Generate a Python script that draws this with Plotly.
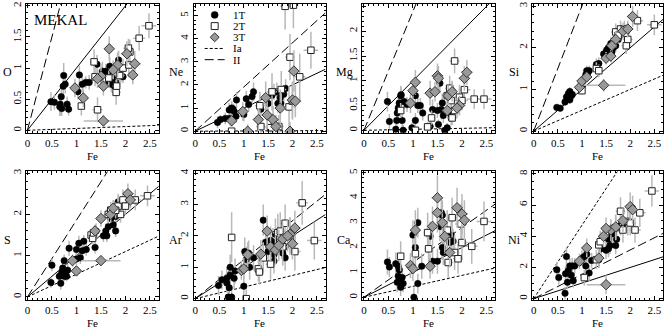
import plotly.graph_objects as go

# ---------------- data ----------------
ELEMENTS = ["O", "Ne", "Mg", "Si", "S", "Ar", "Ca", "Ni"]
FE_TICKS = [0, 0.5, 1, 1.5, 2, 2.5]
FE_TICK_LABELS = ["0", "0.5", "1", "1.5", "2", "2.5"]
FE_RANGE = [-0.03, 2.68]
Y_RANGES = [[-0.04, 2.03], [-0.07, 5.5], [-0.05, 2.55], [-0.04, 3.05],
            [-0.08, 3.04], [-0.05, 4.05], [-0.12, 5.06], [-0.1, 8.15]]
Y_TICKS = [[0, 0.5, 1, 1.5, 2], [0, 1, 2, 3, 4, 5], [0, 0.5, 1, 1.5, 2, 2.5], [0, 1, 2, 3],
           [0, 1, 2, 3], [0, 1, 2, 3, 4], [0, 1, 2, 3, 4, 5], [0, 2, 4, 6, 8]]
Y_MINOR = [0.1, 0.2, 0.1, 0.2, 0.2, 0.2, 0.2, 0.5]
RATIO_SOLAR = [1, 1, 1, 1, 1, 1, 1, 1]
RATIO_IA = [0.03, 0.01, 0.02, 0.5, 0.55, 0.37, 0.44, 4.7]
RATIO_II = [3.0, 1.91, 2.4, 3.0, 1.86, 1.24, 1.4, 1.56]
LEGEND_NAMES = ["1T", "2T", "3T", "Ia", "II"]

# O
O_1T_fe = [0.48, 0.55, 0.67, 0.66, 0.70, 0.69, 0.81, 0.84, 0.74, 0.77, 0.73, 1.06, 1.03, 1.12, 1.19, 1.26, 1.42, 1.53, 1.60, 1.64, 1.66, 1.71, 1.78, 1.68, 1.74, 1.86, 1.91, 1.95, 1.82]
O_1T_val = [0.46, 0.45, 0.42, 0.38, 0.35, 0.54, 0.42, 0.34, 0.88, 0.74, 0.71, 0.89, 0.62, 0.74, 0.77, 0.77, 1.06, 0.95, 0.95, 0.92, 0.79, 0.74, 0.71, 1.03, 0.84, 1.13, 0.89, 0.86, 0.76]
O_1T_err = [0.15, 0.12, 0.18, 0.15, 0.12, 0.15, 0.12, 0.1, 0.2, 0.15, 0.2, 0.15, 0.12, 0.12, 0.1, 0.12, 0.15, 0.15, 0.12, 0.12, 0.1, 0.12, 0.1, 0.15, 0.12, 0.15, 0.12, 0.1, 0.12]
O_2T_fe = [1.10, 1.43, 1.36, 1.38, 1.81, 1.82, 1.95, 2.07, 2.09, 2.06, 2.28, 2.48, 1.66, 1.88]
O_2T_val = [0.39, 0.33, 1.10, 0.86, 0.61, 0.71, 1.00, 1.05, 1.26, 1.32, 1.48, 1.68, 0.84, 0.88]
O_2T_err = [0.15, 0.2, 0.2, 0.15, 0.2, 0.15, 0.15, 0.2, 0.2, 0.15, 0.2, 0.2, 0.15, 0.15]
O_2T_ferr = [0.05, 0.1, 0.08, 0.08, 0.1, 0.08, 0.1, 0.12, 0.1, 0.1, 0.12, 0.15, 0.08, 0.1]
O_3T_fe = [0.97, 1.14, 1.50, 1.55, 1.67, 2.03, 2.19, 2.15, 1.55, 1.84, 1.75, 1.43]
O_3T_val = [0.68, 0.52, 0.87, 0.71, 1.31, 1.23, 1.07, 0.89, 0.15, 1.05, 0.97, 0.83]
O_3T_err = [0.15, 0.15, 0.2, 0.15, 0.2, 0.2, 0.2, 0.15, 0.1, 0.2, 0.15, 0.15]
O_3T_ferr = [0.08, 0.08, 0.1, 0.1, 0.1, 0.12, 0.12, 0.1, 0.4, 0.1, 0.1, 0.1]

# Ne
Ne_1T_fe = [0.46, 0.52, 0.62, 0.72, 0.70, 0.75, 0.78, 0.80, 0.84, 0.85, 1.00, 1.05, 1.10, 1.17, 1.20, 1.35, 1.50, 1.58, 1.62, 1.68, 1.70, 1.76, 1.82, 1.86, 1.75]
Ne_1T_val = [0.38, 0.5, 0.55, 0.55, 0.92, 1.0, 0.95, 0.85, 0.65, 1.35, 0.72, 1.4, 1.15, 1.5, 1.7, 0.95, 1.2, 1.55, 1.7, 1.7, 1.2, 1.2, 1.6, 1.85, 1.45]
Ne_1T_err = [0.25, 0.2, 0.25, 0.3, 0.3, 0.3, 0.25, 0.3, 0.3, 0.35, 0.3, 0.35, 0.3, 0.35, 0.4, 0.3, 0.4, 0.4, 0.35, 0.4, 0.4, 0.35, 0.4, 0.4, 0.35]
Ne_2T_fe = [0.75, 1.33, 1.35, 1.55, 1.72, 1.58, 1.77, 1.93, 2.00, 1.95, 2.15, 2.38, 1.85, 2.02]
Ne_2T_val = [0.0, 1.1, 0.2, 0.15, 0.2, 1.7, 1.8, 1.05, 1.3, 3.2, 2.35, 3.5, 5.4, 5.45]
Ne_2T_err = [0.3, 0.6, 0.4, 0.4, 0.5, 0.8, 0.8, 0.9, 0.8, 1.0, 1.0, 0.8, 1.0, 1.0]
Ne_2T_ferr = [0.05, 0.1, 0.1, 0.1, 0.1, 0.1, 0.1, 0.12, 0.1, 0.1, 0.12, 0.15, 0.1, 0.1]
Ne_3T_fe = [0.75, 0.98, 1.08, 1.30, 1.45, 1.48, 1.60, 1.66, 1.75, 1.95, 2.00, 2.03, 2.06]
Ne_3T_val = [0.45, 0.85, 0.0, 0.5, 1.45, 0.7, 0.5, 0.2, 1.0, 0.0, 1.35, 2.6, 1.3]
Ne_3T_err = [0.3, 0.4, 0.3, 0.5, 0.7, 0.6, 0.6, 0.5, 0.8, 0.4, 0.8, 0.9, 0.7]
Ne_3T_ferr = [0.08, 0.08, 0.1, 0.1, 0.1, 0.1, 0.1, 0.1, 0.12, 0.1, 0.12, 0.12, 0.12]

# Mg
Mg_1T_fe = [0.48, 0.52, 0.65, 0.67, 0.68, 0.70, 0.72, 0.75, 0.76, 0.78, 0.80, 0.82, 0.88, 0.98, 1.05, 1.10, 1.15, 1.05, 1.20, 1.35, 1.40, 1.50, 1.55, 1.58, 1.52, 1.60, 1.62, 1.70, 1.80, 1.75, 1.65, 1.78]
Mg_1T_val = [0.58, 0.18, 0.02, 0.2, 0.35, 0.45, 0.55, 0.7, 0.72, 0.2, 0.0, 0.58, 0.52, 0.05, 0.7, 0.5, 0.5, 0.2, 0.35, 0.08, 0.42, 0.4, 0.95, 0.42, 0.12, 0.55, 0.3, 0.05, 0.8, 0.35, 0.0, 0.25]
Mg_1T_err = [0.2, 0.15, 0.1, 0.15, 0.15, 0.2, 0.15, 0.2, 0.15, 0.15, 0.1, 0.15, 0.15, 0.1, 0.2, 0.15, 0.15, 0.15, 0.15, 0.1, 0.2, 0.15, 0.2, 0.2, 0.1, 0.2, 0.15, 0.1, 0.2, 0.15, 0.1, 0.15]
Mg_2T_fe = [0.75, 1.05, 1.30, 1.38, 1.85, 1.75, 1.78, 1.80, 1.85, 1.95, 2.00, 2.05, 2.25, 2.45, 1.70]
Mg_2T_val = [0.4, 0.0, 0.07, 0.25, 1.4, 0.85, 0.6, 0.25, 0.4, 0.67, 0.6, 0.82, 0.63, 0.63, 0.7]
Mg_2T_err = [0.15, 0.1, 0.1, 0.15, 0.25, 0.25, 0.2, 0.15, 0.2, 0.25, 0.2, 0.25, 0.2, 0.2, 0.2]
Mg_2T_ferr = [0.05, 0.05, 0.08, 0.08, 0.1, 0.1, 0.1, 0.1, 0.1, 0.1, 0.12, 0.12, 0.15, 0.15, 0.1]
Mg_3T_fe = [0.95, 1.00, 1.05, 1.35, 1.45, 1.50, 1.52, 1.72, 1.80, 1.95, 2.05, 2.10, 1.70, 1.90]
Mg_3T_val = [0.55, 0.8, 0.97, 0.75, 0.78, 1.1, 1.05, 0.7, 0.78, 0.5, 1.05, 1.17, 0.4, 0.45]
Mg_3T_err = [0.2, 0.2, 0.25, 0.25, 0.2, 0.25, 0.25, 0.2, 0.2, 0.2, 0.25, 0.25, 0.15, 0.2]
Mg_3T_ferr = [0.08, 0.1, 0.1, 0.1, 0.1, 0.12, 0.1, 0.1, 0.1, 0.12, 0.12, 0.12, 0.1, 0.1]

# Si
Si_1T_fe = [0.48, 0.55, 0.65, 0.68, 0.72, 0.75, 0.78, 0.80, 0.75, 1.00, 1.02, 1.08, 1.10, 1.12, 1.15, 1.30, 1.35, 1.50, 1.52, 1.55, 1.60, 1.62, 1.65, 1.70, 1.75, 1.80, 1.60, 1.45]
Si_1T_val = [0.57, 0.55, 0.7, 0.82, 0.9, 0.95, 0.85, 0.88, 0.75, 1.05, 1.2, 1.35, 1.45, 1.4, 1.45, 1.6, 1.62, 1.9, 1.95, 2.0, 2.1, 1.9, 2.0, 2.05, 2.2, 2.3, 2.0, 1.85]
Si_1T_err = [0.08, 0.08, 0.1, 0.1, 0.12, 0.1, 0.1, 0.1, 0.1, 0.12, 0.12, 0.12, 0.12, 0.12, 0.12, 0.15, 0.15, 0.15, 0.15, 0.15, 0.15, 0.15, 0.15, 0.15, 0.15, 0.18, 0.15, 0.15]
Si_2T_fe = [1.00, 1.30, 1.35, 1.70, 1.80, 1.88, 1.92, 1.95, 2.15, 2.50, 1.75, 1.90]
Si_2T_val = [0.97, 1.5, 1.45, 2.38, 2.45, 2.45, 2.05, 2.2, 2.65, 2.55, 2.3, 2.35]
Si_2T_err = [0.1, 0.15, 0.15, 0.2, 0.2, 0.2, 0.2, 0.2, 0.25, 0.25, 0.2, 0.2]
Si_2T_ferr = [0.05, 0.08, 0.08, 0.1, 0.1, 0.1, 0.1, 0.1, 0.12, 0.15, 0.1, 0.1]
Si_3T_fe = [0.95, 1.00, 1.10, 1.45, 1.50, 1.60, 1.70, 1.85, 1.95, 2.05, 1.62]
Si_3T_val = [1.05, 1.2, 1.3, 1.1, 1.75, 1.8, 2.2, 2.4, 2.45, 2.75, 2.05]
Si_3T_err = [0.1, 0.12, 0.12, 0.15, 0.15, 0.15, 0.2, 0.2, 0.2, 0.25, 0.15]
Si_3T_ferr = [0.08, 0.08, 0.1, 0.45, 0.1, 0.1, 0.1, 0.12, 0.12, 0.12, 0.1]

# S
S_1T_fe = [0.48, 0.50, 0.65, 0.68, 0.70, 0.72, 0.75, 0.75, 0.80, 0.82, 0.85, 1.00, 1.00, 1.05, 1.08, 1.12, 1.15, 1.20, 1.38, 1.40, 1.55, 1.60, 1.62, 1.65, 1.70, 1.75, 1.80, 1.85, 1.80, 1.72]
S_1T_val = [0.35, 0.77, 0.5, 0.33, 0.6, 0.7, 0.5, 0.88, 0.5, 0.65, 1.18, 0.92, 1.15, 1.3, 0.95, 1.12, 1.35, 1.15, 1.2, 1.6, 1.48, 1.6, 1.48, 1.7, 1.9, 1.75, 1.6, 2.3, 1.95, 1.95]
S_1T_err = [0.12, 0.15, 0.15, 0.15, 0.15, 0.15, 0.12, 0.15, 0.12, 0.15, 0.18, 0.15, 0.15, 0.18, 0.15, 0.15, 0.15, 0.15, 0.15, 0.18, 0.15, 0.18, 0.15, 0.18, 0.2, 0.18, 0.15, 0.2, 0.18, 0.18]
S_2T_fe = [1.30, 1.33, 1.35, 1.65, 1.70, 1.85, 1.90, 1.95, 2.00, 2.20, 2.45, 1.80]
S_2T_val = [1.5, 1.42, 1.55, 2.0, 2.1, 2.2, 2.0, 2.35, 2.2, 2.35, 2.45, 2.1]
S_2T_err = [0.15, 0.15, 0.15, 0.2, 0.2, 0.2, 0.2, 0.25, 0.2, 0.25, 0.25, 0.2]
S_2T_ferr = [0.08, 0.08, 0.08, 0.1, 0.1, 0.1, 0.1, 0.12, 0.12, 0.12, 0.15, 0.1]
S_3T_fe = [0.92, 1.00, 1.38, 1.50, 1.50, 1.70, 2.05, 2.10, 1.75]
S_3T_val = [0.88, 0.63, 1.6, 1.9, 0.88, 2.0, 2.5, 2.35, 2.15]
S_3T_err = [0.15, 0.12, 0.15, 0.2, 0.12, 0.2, 0.25, 0.2, 0.2]
S_3T_ferr = [0.08, 0.08, 0.1, 0.1, 0.4, 0.1, 0.12, 0.12, 0.1]

# Ar
Ar_1T_fe = [0.48, 0.55, 0.65, 0.65, 0.68, 0.70, 0.72, 0.72, 0.75, 0.80, 0.82, 1.00, 1.02, 1.05, 1.10, 1.12, 1.20, 1.40, 1.45, 1.50, 1.55, 1.60, 1.62, 1.65, 1.70, 1.78, 1.85, 1.80, 1.62, 1.85]
Ar_1T_val = [0.42, 0.6, 0.65, 0.5, 0.05, 0.35, 0.75, 1.0, 0.05, 0.65, 0.88, 0.4, 1.5, 1.25, 1.45, 1.0, 1.3, 2.5, 1.8, 1.5, 1.85, 1.8, 1.4, 2.05, 1.85, 1.85, 1.65, 1.45, 1.2, 1.3]
Ar_1T_err = [0.3, 0.3, 0.35, 0.3, 0.3, 0.3, 0.35, 0.4, 0.3, 0.35, 0.4, 0.4, 0.45, 0.4, 0.4, 0.4, 0.4, 0.5, 0.45, 0.45, 0.45, 0.45, 0.4, 0.5, 0.45, 0.45, 0.45, 0.4, 0.4, 0.4]
Ar_2T_fe = [0.75, 1.05, 1.30, 1.32, 1.40, 1.55, 1.70, 1.80, 1.85, 1.95, 2.05, 2.20, 2.45, 1.75]
Ar_2T_val = [1.95, 0.0, 0.95, 0.85, 1.3, 1.1, 2.1, 1.65, 2.4, 2.0, 1.5, 3.05, 1.85, 2.15]
Ar_2T_err = [0.8, 0.3, 0.4, 0.4, 0.5, 0.5, 0.6, 0.5, 0.6, 0.6, 0.6, 0.7, 0.6, 0.6]
Ar_2T_ferr = [0.05, 0.05, 0.08, 0.08, 0.08, 0.1, 0.1, 0.1, 0.1, 0.12, 0.12, 0.12, 0.15, 0.1]
Ar_3T_fe = [0.95, 1.00, 1.08, 1.35, 1.48, 1.55, 1.65, 1.72, 1.80, 1.95, 2.05, 2.00, 1.90]
Ar_3T_val = [0.9, 0.95, 1.4, 1.42, 2.15, 1.65, 1.55, 1.7, 1.9, 2.05, 2.25, 1.75, 2.0]
Ar_3T_err = [0.3, 0.35, 0.4, 0.45, 0.5, 0.45, 0.45, 0.5, 0.5, 0.5, 0.55, 0.5, 0.5]
Ar_3T_ferr = [0.08, 0.08, 0.1, 0.1, 0.1, 0.1, 0.1, 0.1, 0.12, 0.12, 0.12, 0.12, 0.1]

# Ca
Ca_1T_fe = [0.48, 0.52, 0.65, 0.68, 0.70, 0.70, 0.72, 0.75, 0.78, 0.80, 0.75, 1.00, 1.02, 1.05, 1.10, 1.10, 1.18, 1.35, 1.40, 1.55, 1.58, 1.60, 1.60, 1.62, 1.70, 1.75, 1.78, 1.82, 1.50]
Ca_1T_val = [1.42, 1.22, 1.35, 0.6, 1.25, 0.85, 1.1, 0.4, 0.8, 0.55, 0.6, 2.5, 0.0, 2.0, 3.0, 0.55, 1.25, 2.45, 1.45, 2.85, 3.4, 3.3, 2.0, 1.8, 2.5, 2.2, 2.5, 2.25, 1.45]
Ca_1T_err = [0.5, 0.4, 0.45, 0.4, 0.45, 0.4, 0.45, 0.35, 0.4, 0.35, 0.35, 0.6, 0.4, 0.5, 0.6, 0.4, 0.5, 0.6, 0.5, 0.6, 0.6, 0.6, 0.5, 0.5, 0.6, 0.5, 0.6, 0.5, 0.5]
Ca_2T_fe = [0.75, 1.05, 1.30, 1.32, 1.70, 1.72, 1.80, 1.85, 1.92, 1.98, 2.00, 2.20, 2.45]
Ca_2T_val = [1.65, 1.75, 2.6, 1.95, 2.7, 1.4, 3.2, 1.8, 1.55, 2.95, 2.2, 2.05, 3.05]
Ca_2T_err = [0.6, 0.7, 0.8, 0.7, 0.8, 0.6, 0.8, 0.7, 0.6, 0.8, 0.7, 0.7, 0.8]
Ca_2T_ferr = [0.05, 0.05, 0.08, 0.08, 0.1, 0.1, 0.1, 0.1, 0.1, 0.12, 0.12, 0.12, 0.15]
Ca_3T_fe = [0.95, 1.00, 1.05, 1.35, 1.40, 1.50, 1.50, 1.65, 1.75, 1.90, 2.00, 2.05, 1.60]
Ca_3T_val = [1.28, 1.15, 2.7, 1.25, 2.85, 4.0, 3.4, 2.45, 1.8, 3.6, 3.35, 3.1, 3.0]
Ca_3T_err = [0.5, 0.5, 0.8, 0.5, 0.8, 0.9, 0.8, 0.7, 0.6, 0.8, 0.8, 0.8, 0.8]
Ca_3T_ferr = [0.08, 0.08, 0.1, 0.1, 0.1, 0.12, 0.1, 0.1, 0.1, 0.12, 0.12, 0.12, 0.1]

# Ni
Ni_1T_fe = [0.48, 0.52, 0.65, 0.66, 0.68, 0.70, 0.72, 0.75, 0.78, 0.80, 0.82, 0.85, 1.00, 1.05, 1.08, 1.10, 1.15, 1.20, 1.35, 1.40, 1.50, 1.55, 1.58, 1.62, 1.65, 1.70, 1.72, 1.80, 1.85, 1.55]
Ni_1T_val = [1.85, 1.35, 0.35, 1.6, 2.7, 1.05, 1.8, 2.1, 1.5, 2.1, 1.15, 2.1, 2.6, 2.7, 2.1, 2.85, 1.65, 2.45, 2.5, 3.2, 3.1, 3.8, 3.4, 4.15, 4.2, 3.4, 3.8, 4.7, 4.8, 3.2]
Ni_1T_err = [0.5, 0.45, 0.4, 0.5, 0.6, 0.45, 0.5, 0.5, 0.5, 0.5, 0.45, 0.5, 0.5, 0.55, 0.5, 0.55, 0.5, 0.5, 0.55, 0.55, 0.55, 0.6, 0.55, 0.6, 0.6, 0.55, 0.6, 0.65, 0.65, 0.55]
Ni_2T_fe = [1.05, 1.30, 1.35, 1.38, 1.70, 1.80, 1.85, 1.95, 2.00, 2.20, 2.10, 2.45]
Ni_2T_val = [1.35, 2.5, 3.45, 3.65, 4.55, 5.6, 4.4, 4.95, 4.85, 5.5, 4.4, 6.9]
Ni_2T_err = [0.5, 0.6, 0.6, 0.7, 0.8, 0.9, 0.8, 0.9, 0.8, 0.9, 0.8, 1.0]
Ni_2T_ferr = [0.05, 0.08, 0.08, 0.08, 0.1, 0.1, 0.1, 0.12, 0.12, 0.12, 0.12, 0.15]
Ni_3T_fe = [0.95, 1.10, 1.35, 1.45, 1.50, 1.60, 1.70, 1.85, 2.00, 2.05, 1.50]
Ni_3T_val = [2.4, 3.25, 2.6, 4.0, 0.9, 4.4, 4.6, 5.0, 5.9, 5.7, 4.5]
Ni_3T_err = [0.5, 0.6, 0.6, 0.7, 0.6, 0.7, 0.8, 0.8, 0.9, 0.9, 0.7]
Ni_3T_ferr = [0.08, 0.1, 0.1, 0.1, 0.4, 0.1, 0.12, 0.12, 0.12, 0.12, 0.1]

SERIES = {
    "O": [(O_1T_fe, O_1T_val, O_1T_err, None), (O_2T_fe, O_2T_val, O_2T_err, O_2T_ferr), (O_3T_fe, O_3T_val, O_3T_err, O_3T_ferr)],
    "Ne": [(Ne_1T_fe, Ne_1T_val, Ne_1T_err, None), (Ne_2T_fe, Ne_2T_val, Ne_2T_err, Ne_2T_ferr), (Ne_3T_fe, Ne_3T_val, Ne_3T_err, Ne_3T_ferr)],
    "Mg": [(Mg_1T_fe, Mg_1T_val, Mg_1T_err, None), (Mg_2T_fe, Mg_2T_val, Mg_2T_err, Mg_2T_ferr), (Mg_3T_fe, Mg_3T_val, Mg_3T_err, Mg_3T_ferr)],
    "Si": [(Si_1T_fe, Si_1T_val, Si_1T_err, None), (Si_2T_fe, Si_2T_val, Si_2T_err, Si_2T_ferr), (Si_3T_fe, Si_3T_val, Si_3T_err, Si_3T_ferr)],
    "S": [(S_1T_fe, S_1T_val, S_1T_err, None), (S_2T_fe, S_2T_val, S_2T_err, S_2T_ferr), (S_3T_fe, S_3T_val, S_3T_err, S_3T_ferr)],
    "Ar": [(Ar_1T_fe, Ar_1T_val, Ar_1T_err, None), (Ar_2T_fe, Ar_2T_val, Ar_2T_err, Ar_2T_ferr), (Ar_3T_fe, Ar_3T_val, Ar_3T_err, Ar_3T_ferr)],
    "Ca": [(Ca_1T_fe, Ca_1T_val, Ca_1T_err, None), (Ca_2T_fe, Ca_2T_val, Ca_2T_err, Ca_2T_ferr), (Ca_3T_fe, Ca_3T_val, Ca_3T_err, Ca_3T_ferr)],
    "Ni": [(Ni_1T_fe, Ni_1T_val, Ni_1T_err, None), (Ni_2T_fe, Ni_2T_val, Ni_2T_err, Ni_2T_ferr), (Ni_3T_fe, Ni_3T_val, Ni_3T_err, Ni_3T_ferr)],
}
FE_ERR_1T = 0.04

# ---------------- style / layout ----------------
W, H = 665, 329
FONT = "Liberation Serif"
COL_X = [(25, 158), (193, 325), (362, 495), (532, 663)]
ROW_Y = [(1, 131), (170, 300)]
ERR_COLOR = "#b8b8b8"
MARKERS = [
    dict(symbol="circle", size=6.5, color="black", line=dict(color="black", width=0.5)),
    dict(symbol="square", size=6.5, color="white", line=dict(color="#222222", width=1)),
    dict(symbol="diamond", size=8, color="#9a9a9a", line=dict(color="#333333", width=1)),
]

fig = go.Figure()
layout = dict(width=W, height=H, margin=dict(l=0, r=0, t=0, b=0),
              paper_bgcolor="white", plot_bgcolor="white", showlegend=False,
              font=dict(family=FONT, color="black", size=11))
annotations = []
shapes = []

for i, el in enumerate(ELEMENTS):
    r, c = divmod(i, 4)
    ax = "" if i == 0 else str(i + 1)
    x0, x1 = COL_X[c]
    y0, y1 = ROW_Y[r]
    xd = [x0 / W, x1 / W]
    yd = [1 - y1 / H, 1 - y0 / H]
    layout["xaxis" + ax] = dict(
        domain=xd, range=FE_RANGE, anchor="y" + ax, tickvals=FE_TICKS, ticktext=FE_TICK_LABELS,
        ticks="inside", ticklen=4, tickcolor="black", showline=True, linecolor="black", linewidth=1,
        mirror="ticks", showgrid=False, zeroline=False, tickfont=dict(size=11, family=FONT),
        minor=dict(ticks="inside", ticklen=2, dtick=0.1, tickcolor="black", showgrid=False))
    layout["yaxis" + ax] = dict(
        domain=yd, range=Y_RANGES[i], anchor="x" + ax, tickvals=Y_TICKS[i],
        ticktext=[("%g" % t) for t in Y_TICKS[i]], tickangle=-90,
        ticks="inside", ticklen=4, tickcolor="black", showline=True, linecolor="black", linewidth=1,
        mirror="ticks", showgrid=False, zeroline=False, tickfont=dict(size=11, family=FONT),
        minor=dict(ticks="inside", ticklen=2, dtick=Y_MINOR[i], tickcolor="black", showgrid=False))

    xa, ya = "x" + ax, "y" + ax
    # model lines
    xs = [0, FE_RANGE[1]]
    for ratio, dash in [(RATIO_SOLAR[i], "solid"), (RATIO_IA[i], "3px,2px"), (RATIO_II[i], "9px,4px")]:
        fig.add_trace(go.Scatter(x=xs, y=[ratio * v for v in xs], mode="lines", xaxis=xa, yaxis=ya,
                                 line=dict(color="black", width=1, dash=dash), hoverinfo="skip"))
    # data
    for k, (fe, val, err, ferr) in enumerate(SERIES[el]):
        ex = dict(type="data", array=ferr, color=ERR_COLOR, thickness=1.5, width=0) if ferr is not None \
            else dict(type="constant", value=FE_ERR_1T, color=ERR_COLOR, thickness=1.5, width=0)
        fig.add_trace(go.Scatter(
            x=fe, y=val, mode="markers", xaxis=xa, yaxis=ya, marker=MARKERS[k],
            error_y=dict(type="data", array=err, color=ERR_COLOR, thickness=1.5, width=0),
            error_x=ex, cliponaxis=True))

    # axis titles
    annotations.append(dict(text="Fe", x=(x0 + x1) / 2 / W, y=1 - (y1 + 23) / H, xref="paper", yref="paper",
                            showarrow=False, font=dict(size=11, family=FONT), xanchor="center", yanchor="middle"))
    annotations.append(dict(text=el, x=(x0 - 18) / W, y=1 - ((y0 + y1) / 2 + 4) / H, xref="paper", yref="paper",
                            showarrow=False, font=dict(size=12, family=FONT), xanchor="center", yanchor="middle"))

annotations.append(dict(text="MEKAL", x=31 / W, y=1 - 17 / H, xref="paper", yref="paper", showarrow=False,
                        font=dict(size=15, family=FONT), xanchor="left", yanchor="middle"))

# legend (Ne panel, top-left)
LX, LT = 214, 12
for j, name in enumerate(LEGEND_NAMES):
    yy = LT + j * 11.3
    annotations.append(dict(text=name, x=230 / W, y=1 - yy / H, xref="paper", yref="paper", showarrow=False,
                            font=dict(size=11, family=FONT), xanchor="left", yanchor="middle"))
    py = 1 - yy / H
    if j == 0:
        shapes.append(dict(type="circle", xref="paper", yref="paper", x0=(LX - 3.5) / W, x1=(LX + 3.5) / W,
                           y0=1 - (yy + 3.5) / H, y1=1 - (yy - 3.5) / H, fillcolor="black", line=dict(color="black", width=0.5)))
    elif j == 1:
        shapes.append(dict(type="rect", xref="paper", yref="paper", x0=(LX - 3.5) / W, x1=(LX + 3.5) / W,
                           y0=1 - (yy + 3.5) / H, y1=1 - (yy - 3.5) / H, fillcolor="white", line=dict(color="#222222", width=1)))
    elif j == 2:
        path = "M %f %f L %f %f L %f %f L %f %f Z" % ((LX - 4.5) / W, 1 - yy / H, LX / W, 1 - (yy - 4.5) / H,
                                                   (LX + 4.5) / W, 1 - yy / H, LX / W, 1 - (yy + 4.5) / H)
        shapes.append(dict(type="path", xref="paper", yref="paper", path=path, fillcolor="#9a9a9a",
                           line=dict(color="#333333", width=1)))
    else:
        shapes.append(dict(type="line", xref="paper", yref="paper", x0=204 / W, x1=224 / W, y0=py, y1=py,
                           line=dict(color="black", width=1, dash="3px,2px" if j == 3 else "9px,4px")))

layout["annotations"] = annotations
layout["shapes"] = shapes
fig.update_layout(**layout)
fig.write_html("out.html", config={"displayModeBar": False},
               post_script="document.body.style.margin='0';document.body.style.overflow='hidden';")
